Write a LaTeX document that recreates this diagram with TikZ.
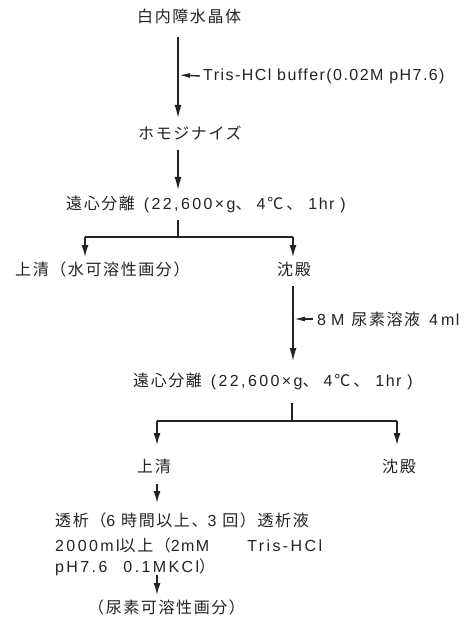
\documentclass[tikz,border=0pt]{standalone}
\usepackage{fontspec}
\setmainfont{Liberation Sans}[LetterSpace=9]
\newfontfamily\jp{Noto Sans CJK JP}[LetterSpace=10]
\newcommand\J[1]{{\jp #1}}
\newcommand\W[1]{{\addfontfeature{LetterSpace=15}#1}}
\newcommand\centri{\J{遠心分離}\hspace{3pt} \W{(22,600×g}\J{、}\hspace{5pt}4\hspace{2pt}\J{℃}\hspace{3pt}\J{、}\hspace{6pt}1hr\hspace{6pt})}
\usetikzlibrary{arrows.meta}
\definecolor{ink}{RGB}{35,35,35}
\begin{document}
\begin{tikzpicture}[x=1pt,y=-1pt,
  lbl/.style={inner sep=0pt,text=ink,font=\fontsize{16pt}{18pt}\selectfont},
  arr/.style={draw=ink,line width=1.4pt,-{Latex[length=13pt,width=7pt]}},
  barr/.style={draw=ink,line width=1.4pt,-{Latex[length=12pt,width=7pt]}},
  sarr/.style={draw=ink,line width=1.4pt,-{Latex[length=11pt,width=5pt]}},
  ln/.style={draw=ink,line width=1.4pt}]
\useasboundingbox (0,0) rectangle (474,617);
% nodes
\node[lbl,anchor=west] (n1) at (137,16) {\J{白内障水晶体}};
\node[lbl,anchor=west] (tris) at (203,76) {Tris-HCl buffer(0.02M pH7.6)};
\node[lbl,anchor=west] (n2) at (138,133) {\J{ホモジナイズ}};
\node[lbl,anchor=west] (n3) at (66,204) {\centri};
\node[lbl,anchor=west] (n4) at (15,269) {\J{上清（水可溶性画分）}};
\node[lbl] (n5) at (294,269) {\J{沈殿}};
\node[lbl,anchor=west] (urea) at (317,319) {8\hspace{5pt}M\hspace{7pt}\J{尿素溶液}\hspace{9pt}4\hspace{3pt}ml};
\node[lbl,anchor=west] (n6) at (133,381) {\centri};
\node[lbl] (n7) at (154,466) {\J{上清}};
\node[lbl] (n8) at (399,466) {\J{沈殿}};
\node[lbl,anchor=west] (n9a) at (55,520) {\J{透析（}6 \J{時間以上、}3 \J{回）透析液}};
\node[lbl,anchor=west] (n9b) at (55,545) {\W{2000ml}\J{以上（}2mM\hspace{38pt}\W{Tris-HCl}};
\node[lbl,anchor=west] (n9c) at (55,567) {\W{pH7.6}\hspace{16pt}\W{0.1MKCl}\J{）}};
\node[lbl,anchor=west] (n10) at (88,607) {\J{（尿素可溶性画分）}};
% coordinates
\coordinate (a1s) at (178,37);
\coordinate (a1e) at (178,118);
\coordinate (j1) at (179,75);
\coordinate (a2s) at (178,150);
\coordinate (a2e) at (178,190);
\coordinate (s1a) at (178,220);
\coordinate (s1b) at (178,237);
\coordinate (b1l) at (85,237);
\coordinate (b1r) at (293,237);
\coordinate (b1le) at (85,257);
\coordinate (b1re) at (293,257);
\coordinate (a3s) at (293,286);
\coordinate (a3e) at (293,361);
\coordinate (j2) at (294,319);
\coordinate (s2a) at (292,403);
\coordinate (s2b) at (292,421);
\coordinate (b2l) at (157,421);
\coordinate (b2r) at (397,421);
\coordinate (b2le) at (157,445);
\coordinate (b2re) at (397,445);
\coordinate (a4s) at (157,484);
\coordinate (a4e) at (157,503);
\coordinate (a5s) at (157,575);
\coordinate (a5e) at (157,595);
% connectors
\draw[arr] (a1s) -- (a1e);
\draw[sarr] ([xshift=-3pt]tris.west) -- (j1);
\draw[arr] (a2s) -- (a2e);
\draw[ln] (s1a) -- (s1b);
\draw[ln] (b1l) -- (b1r);
\draw[barr] (b1l) -- (b1le);
\draw[barr] (b1r) -- (b1re);
\draw[arr] (a3s) -- (a3e);
\draw[sarr] ([xshift=-4pt]urea.west) -- (j2);
\draw[ln] (s2a) -- (s2b);
\draw[ln] (b2l) -- (b2r);
\draw[barr] (b2l) -- (b2le);
\draw[barr] (b2r) -- (b2re);
\draw[barr] (a4s) -- (a4e);
\draw[barr] (a5s) -- (a5e);
\end{tikzpicture}
\end{document}
